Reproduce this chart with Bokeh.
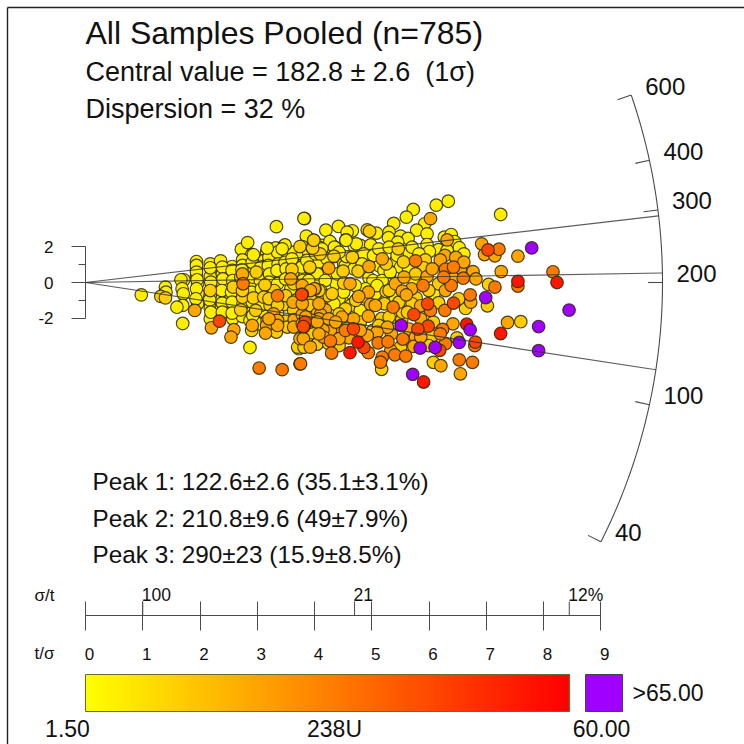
import math
from bokeh.embed import file_html
from bokeh.resources import INLINE
from bokeh.plotting import figure
from bokeh.models import ColumnDataSource, LinearAxis, FixedTicker, LinearColorMapper
from bokeh.core.properties import value

FONT = "Liberation Sans"

# points: t/sigma and standardised residual, grouped by 238U level
yellow_t = [0.97,1.39,1.40,1.71,1.66,1.68,1.70,1.69,1.59,1.69,1.93,1.93,1.93,1.95,1.96,1.95,2.17,2.19,2.17,2.17,2.17,2.17,2.35,2.38,2.38,2.37,2.36,2.55,2.57,2.53,2.55,2.56,2.71,2.82,2.89,2.73,2.73,2.86,2.86,2.87,3.03,2.90,3.03,3.02,3.15,3.19,3.32,3.81,3.85,3.97,3.42,3.31,3.46,3.74,3.96,3.11,3.28,3.44,3.59,3.77,3.36,3.77,3.13,4.03,3.60,3.34,3.11,3.05,2.90,3.57,3.89,4.03,4.09,4.03,
 6.10,6.31,5.70,5.58,7.22,5.90,5.36,5.76,5.94,4.40,4.18,3.80,4.64,4.55,5.06,5.28,5.27,5.48,5.61,5.43,3.84,3.97,4.25,4.53,4.78,4.67,4.96,6.24,6.36,6.42,5.94,4.12,3.77,4.32,6.50,6.58,6.14,5.98,5.59,5.40,5.11,4.74,4.55,4.32,4.10,4.93,5.19,5.29,5.14,5.00,4.36,3.80,4.48,4.41,5.35,
 3.30,3.14,3.19,3.74,3.45,4.17,4.49,3.74,3.29,2.90,3.04,3.16,3.71,
 1.93,1.93,1.94,1.93,1.92,2.17,2.18,2.17,2.16,2.18,2.38,2.39,2.37,2.38,2.38,2.55,2.56,2.54,2.55,2.55,2.73,2.72,2.74,2.90,2.91,2.89,2.90,2.91,3.05,3.04,3.06,3.05,3.19,3.18,3.20,3.19,3.34,3.35,3.33,3.34,3.48,3.47,3.49,3.48,3.62,3.63,3.61,3.77,3.76,3.78,3.91,3.92,3.90,4.06,4.05,4.07,
 3.88,4.06,4.03,3.88,4.17,4.38,4.52,4.67,4.84,5.01,5.10,5.28,5.42,5.68,5.80,5.16,4.87,5.04,4.49,4.32,4.61,4.78,3.94,5.48,5.30,5.62,4.69,5.71,6.06,6.29,5.25,
 3.47,3.16,2.92,3.59,3.42,4.25,4.33,4.54,4.71,4.53,4.11,3.85,4.00,4.20,4.41,4.81,4.09,5.07,5.39]
yellow_z = [-0.69,-0.26,-0.54,0.15,0.15,-0.35,-0.63,-1.28,-1.38,-2.29,1.17,0.71,0.37,-0.07,-0.63,-1.19,1.04,0.67,0.33,-1.19,-1.41,-2.03,1.21,0.48,-0.07,-0.86,-1.41,0.89,0.39,-0.82,-1.38,-2.03,1.86,2.23,1.54,1.26,-1.90,-2.12,-3.63,0.67,0.39,-1.47,-1.93,-2.31,1.69,1.88,3.12,3.57,2.55,2.34,1.86,1.93,2.06,2.01,1.92,1.23,1.32,1.51,1.26,1.23,0.45,0.39,-0.15,-0.82,-0.63,-1.71,-1.66,-0.63,-0.26,-0.35,0.30,0.67,1.41,-3.42,
 4.32,4.54,4.08,3.65,3.80,3.28,3.30,2.92,2.72,3.13,2.92,3.58,2.89,2.81,2.76,2.81,2.50,2.59,2.46,2.25,2.59,2.35,2.25,2.38,2.07,2.07,2.10,2.53,2.68,2.29,2.12,2.07,2.01,2.01,1.94,1.60,1.83,1.73,1.60,1.21,0.93,1.14,1.42,1.45,1.60,0.26,0.67,0.26,-0.35,0.11,-0.07,0.26,-1.10,-0.91,-1.93,
 1.54,0.95,0.39,0.95,1.13,1.32,1.04,0.30,-0.22,-0.13,-1.19,-2.12,-3.70,
 0.95,0.58,0.15,-0.35,-0.91,0.82,0.02,-0.73,-0.97,-1.66,0.86,0.20,-0.45,-1.15,-1.66,0.67,0.11,-0.54,-1.10,-1.71,0.95,0.71,-1.19,1.13,0.30,-0.54,-1.10,-1.84,0.86,0.11,-0.35,-1.28,1.41,0.95,0.48,0.02,1.69,1.04,0.67,-0.07,1.79,1.13,0.76,0.20,1.69,0.95,0.58,1.60,0.86,0.11,1.51,1.13,-0.07,1.97,1.04,0.20,
 1.69,1.14,0.48,0.11,0.11,0.48,0.95,0.76,1.60,1.51,1.88,1.97,1.51,1.97,1.60,0.11,-0.35,-0.63,-0.54,-1.19,-1.28,-1.56,-1.10,0.86,0.58,0.76,-0.17,0.11,-0.63,1.79,-0.82,
 2.10,1.92,1.55,1.32,1.88,2.29,1.97,1.45,2.16,2.36,1.88,1.23,1.60,1.32,1.69,1.04,-0.45,-0.17,-0.91]
gold_t = [1.31,1.39,2.17,2.57,2.73,2.70,2.89,2.92,3.32,3.90,3.28,3.46,3.29,3.21,3.48,3.77,3.96,3.79,3.69,3.51,2.70,
 5.44,3.95,5.91,5.53,5.23,3.90,4.48,4.74,5.88,7.01,6.14,4.49,5.23,4.20,4.03,5.75,6.99,6.61,6.49,6.14,5.68,5.20,3.84,5.15,5.50,7.57,6.05,3.95,5.00,4.03,3.80,6.03,6.46,5.15,6.05,4.41,4.90,4.94,
 2.97,3.12,3.59,2.96,3.10,
 2.73,3.19,3.34,3.48,3.62,3.62,3.77,3.77,3.91,3.91,4.06,4.09,4.78,5.10,5.28,5.51,5.97,5.74,5.45,5.60,5.48,5.97,
 4.32,4.08,3.73,3.95,3.97,4.64,4.29,4.52,4.70,4.87,5.28,4.55,4.41,4.23]
gold_z = [-0.78,-0.86,-0.45,-0.26,-0.82,-1.53,-2.68,-0.86,-2.77,0.82,-0.45,-1.23,-1.10,-1.28,-2.16,-1.23,-2.77,-3.61,-3.61,-2.49,0.30,
 1.88,1.92,1.26,1.15,1.04,0.86,0.63,0.63,0.82,-0.11,-0.07,-0.04,-0.50,-0.74,-0.91,-0.86,-1.30,-1.45,-0.91,-1.13,-1.19,-1.19,-1.56,-2.01,-2.08,-2.19,-2.21,-2.81,-2.68,-3.44,-3.61,-2.99,-3.09,-4.85,-4.46,-3.52,2.94,2.86,
 0.58,-0.13,0.73,-1.56,-0.82,
 -0.45,-0.91,-1.28,-0.73,-0.07,-1.56,-0.54,-1.10,-0.73,-1.28,-0.45,-1.28,-2.21,-2.40,-1.93,-1.66,-0.45,0.48,-1.10,-1.66,-3.61,-3.52,
 1.47,1.60,2.01,1.92,2.36,1.41,-0.63,-1.47,-1.00,-0.82,-0.45,-2.40,-1.75,-3.42]
orange_t = [1.90,2.19,2.58,2.53,2.73,3.15,3.13,3.27,3.63,3.77,3.99,3.77,3.61,4.03,3.73,3.57,
 6.00,6.29,6.89,6.94,7.12,7.52,6.25,6.44,6.17,5.16,4.93,4.23,6.52,6.74,7.23,5.94,6.40,6.79,5.39,5.67,5.51,4.92,4.60,3.98,4.75,4.96,5.58,6.70,5.83,4.17,4.09,3.77,4.92,4.66,7.34,6.39,5.63,4.41,4.26,4.13,3.79,4.58,4.41,5.74,5.32,5.71,6.18,6.52,
 2.90,3.34,3.34,3.19,3.62,3.77,3.91,4.06,4.06,3.94,4.23,4.46,6.03,5.54,6.26,6.58,5.04,5.83,5.25,5.07,4.14,3.91,4.90,5.31,5.83,
 3.91,3.83,4.03,4.35,4.78,4.06]
orange_z = [-1.56,-2.53,-2.64,-3.05,0.48,-2.40,-2.83,-1.75,-2.08,-1.79,-0.35,-0.17,-1.10,-1.75,-3.14,0.20,
 3.57,2.38,2.16,1.56,1.49,1.47,1.51,1.40,1.26,1.32,0.89,0.80,0.74,0.61,0.61,0.33,0.24,0.20,-0.07,-0.35,-0.48,-0.54,-0.07,-0.35,-0.78,-1.23,-0.69,-1.10,-1.30,-1.53,-1.79,-1.19,-1.88,-2.03,-2.23,-2.31,-2.60,-2.68,-2.68,-2.64,-3.14,-3.09,-3.14,-3.05,-2.86,-3.57,-4.65,-5.10,
 -2.40,-2.12,-2.40,-2.03,-2.49,-2.31,-2.21,-1.19,-2.03,-2.12,-2.03,-1.93,0.76,0.30,-0.45,1.14,-1.28,-2.03,-2.50,-2.77,-3.05,-3.61,-2.96,-3.80,-3.05,
 -0.45,-1.93,-2.21,-2.21,-2.68,-2.87]
deep_t = [2.74,3.34,3.02,3.42,3.73,
 7.19,6.26,6.40,5.74,8.13,6.57,7.12,7.52,6.36,5.87,3.77,6.69,5.35,6.25,3.80,6.21,4.26,4.92,5.09,5.26,5.52,6.26,6.77,4.28,5.16,5.13,5.38,5.57,6.50,6.73,3.74,
 6.23,6.00,4.52,6.17]
deep_z = [-0.07,-0.74,-4.78,-4.87,-4.54,
 1.86,0.74,0.86,1.21,0.60,0.24,-0.26,-0.20,-0.17,-0.17,-0.67,-0.69,-1.38,-1.56,-2.46,-2.62,-3.27,-3.92,-3.37,-3.31,-3.16,-3.42,-3.52,-3.94,-4.17,-4.45,-4.04,-4.11,-4.32,-4.46,-4.54,
 0.30,-1.56,-2.68,-2.87]
hot_t = [2.33,3.76,3.82,3.79,7.00,6.40,5.95,5.71,5.96,5.78,4.66,4.84,6.16,6.78]
hot_z = [-2.16,-0.67,-2.21,-2.46,1.82,-1.15,-1.19,-1.79,-2.44,-2.60,-2.59,-3.63,-3.79,-3.33]
red_t = [7.52,8.20,7.22,6.63,4.74,4.60,5.88]
red_z = [0.06,0.00,-2.85,-2.33,-3.33,-3.92,-5.56]
over_t = [7.76,6.96,8.41,5.49,7.88,6.69,7.88,6.50,5.82,6.08,5.69]
over_z = [1.93,-0.84,-1.54,-2.40,-2.46,-2.64,-3.81,-3.35,-3.66,-3.63,-5.13]
group_u = [5.4, 13, 22, 32, 44, 55, 70]

peak_ages = [122.6, 210.8, 290]
arc_ticks = [40, 100, 200, 300, 400, 600]
arc_labels = ["40", "100", "200", "300", "400", "600"]
t_sigma_ticks = list(range(10))
sigma_t_ticks = [1, 4.70, 8.45]
sigma_t_labels = ["100", "21", "12%"]
title = "All Samples Pooled (n=785)"
central = "Central value = 182.8 \u00b1 2.6\u00a0\u00a0(1\u03c3)"
dispersion = "Dispersion = 32 %"
peaks = ["Peak 1: 122.6\u00b12.6 (35.1\u00b13.1%)", "Peak 2: 210.8\u00b19.6 (49\u00b17.9%)", "Peak 3: 290\u00b123 (15.9\u00b18.5%)"]
u_low, u_high, u_over = 1.5, 60.0, 65.0
ref_age = 200.0

# geometry
W = H = 744
PXT, PXZ = 57.25, 17.9      # pixels per t/sigma unit, per z unit
CAL = 57.5 / PXT            # reading calibration of the t/sigma values

def tx(px):
    return (px - 85) / PXT
def zy(py):
    return (282 - py) / PXZ

p = figure(width=W, height=H, output_backend="svg", toolbar_location=None, min_border=0,
           x_range=(tx(0), tx(744)), y_range=(zy(744), zy(0)),
           x_axis_type=None, y_axis_type=None, outline_line_color=None)
p.grid.visible = False
p.background_fill_color = "white"
TXT = "#111111"

# page frame: top and left rule
p.segment(x0=[tx(7), tx(7)], y0=[zy(7), zy(7)], x1=[tx(744), tx(7)], y1=[zy(7), zy(744)],
          line_color="#222222", line_width=1.4)

# points
groups = [(yellow_t, yellow_z), (gold_t, gold_z), (orange_t, orange_z), (deep_t, deep_z),
          (hot_t, hot_z), (red_t, red_z), (over_t, over_z)]
xs, zs, us = [], [], []
for (gt, gz), u in zip(groups, group_u):
    xs += [v * CAL for v in gt]
    zs += gz
    us += [u] * len(gt)
palette = ["#ff%02x00" % round(255 * (1 - i / 255)) for i in range(256)]
mapper = LinearColorMapper(palette=palette, low=u_low, high=u_high, high_color="#a000ff")
src = ColumnDataSource(dict(x=xs, z=zs, u=us))
p.scatter("x", "z", source=src, size=12.6, fill_color={"field": "u", "transform": mapper},
          line_color="#2a2a00", line_alpha=0.85, line_width=1.2)

# radial scale
K = PXZ / PXT
R = 577.0 / PXT
def arc_point(age, frac=1.0):
    s = math.log(age / ref_age)
    x = frac * R / math.sqrt(1 + (K * s) ** 2)
    return x, x * s

LINE = "#4a4a4a"
n = 160
ages = [40 * (600 / 40) ** (i / n) for i in range(n + 1)]
pts = [arc_point(a) for a in ages]
p.line([a for a, _ in pts], [b for _, b in pts], line_color=LINE, line_width=1.1)
ends = [arc_point(a) for a in peak_ages]
p.segment(x0=[0] * 3, y0=[0] * 3, x1=[e[0] for e in ends], y1=[e[1] for e in ends],
          line_color="#333333", line_alpha=0.8, line_width=1.2)
t_out = [arc_point(a) for a in arc_ticks]
t_in = [arc_point(a, 0.975) for a in arc_ticks]
p.segment(x0=[e[0] for e in t_in], y0=[e[1] for e in t_in], x1=[e[0] for e in t_out], y1=[e[1] for e in t_out],
          line_color=LINE, line_width=1.1)
p.text(x=[e[0] for e in t_out], y=[e[1] for e in t_out], text=arc_labels, x_offset=14, y_offset=-9,
       text_font=value(FONT), text_font_size="24px", text_align="left", text_baseline="middle", text_color=TXT)

# residual axis
zaxis = LinearAxis(fixed_location=0, bounds=(-2, 2),
                   ticker=FixedTicker(ticks=[-2, 0, 2], minor_ticks=[-1, 1]),
                   major_tick_in=0, major_tick_out=14, minor_tick_in=0, minor_tick_out=7,
                   axis_line_color=LINE, major_tick_line_color=LINE, minor_tick_line_color=LINE,
                   major_label_standoff=18, major_label_text_font=FONT, major_label_text_font_size="17px",
                   major_label_overrides={-2: "-2"}, major_label_text_color=TXT)
p.add_layout(zaxis, "left")

# t/sigma axis and sigma/t ticks
Y_AX = zy(615)
taxis = LinearAxis(fixed_location=Y_AX, bounds=(0, 9), ticker=FixedTicker(ticks=t_sigma_ticks),
                   major_tick_in=14, major_tick_out=15, minor_tick_in=0, minor_tick_out=0,
                   axis_line_color=LINE, major_tick_line_color=LINE,
                   major_label_overrides={i: "" for i in t_sigma_ticks})
p.add_layout(taxis, "below")
p.text(x=t_sigma_ticks, y=[zy(653)] * 10, text=[str(i) for i in t_sigma_ticks], x_offset=4,
       text_font=value(FONT), text_font_size="17px", text_align="center", text_baseline="middle", text_color=TXT)
p.segment(x0=sigma_t_ticks, y0=[Y_AX] * 3, x1=sigma_t_ticks, y1=[zy(601)] * 3, line_color=LINE, line_width=1)
p.text(x=sigma_t_ticks, y=[zy(594)] * 3, text=sigma_t_labels, x_offset=-1,
       text_font=value(FONT), text_font_size="17.5px", text_align="left", text_baseline="middle", text_color=TXT)
p.text(x=[tx(44)] * 2, y=[zy(595), zy(653)], text=["\u03c3/t", "t/\u03c3"],
       text_font=value(FONT), text_font_size="17px", text_align="center", text_baseline="middle", text_color=TXT)

# colour bar
steps = 240
edges = [sigma_t_ticks[-1] * i / steps for i in range(steps + 1)]
ramp_u = [u_low + (u_high - u_low) * (i + 0.5) / steps for i in range(steps)]
bar = ColumnDataSource(dict(left=edges[:-1], right=edges[1:], top=[zy(674)] * steps, bottom=[zy(711)] * steps, u=ramp_u))
p.quad(left="left", right="right", top="top", bottom="bottom", source=bar,
       fill_color={"field": "u", "transform": mapper}, line_color={"field": "u", "transform": mapper}, line_width=1.2)
p.quad(left=[0], right=[sigma_t_ticks[-1]], top=[zy(674)], bottom=[zy(711)], fill_color=None, line_color="#6a6a30", line_width=1)
p.quad(left=[tx(585)], right=[tx(622)], top=[zy(674)], bottom=[zy(711)], fill_color=mapper.high_color, line_color="#444444", line_width=1)
p.text(x=[tx(67), tx(334), tx(601)], y=[zy(728)] * 3, text=["%.2f" % u_low, "238U", "%.2f" % u_high],
       text_font=value(FONT), text_font_size="23px", text_align="center", text_baseline="middle", text_color=TXT)
p.text(x=[tx(632)], y=[zy(692)], text=[">%.2f" % u_over],
       text_font=value(FONT), text_font_size="23px", text_align="left", text_baseline="middle", text_color=TXT)

# headings
p.text(x=[tx(85)], y=[zy(32)], text=[title], text_font=value(FONT), text_font_size="32px",
       text_align="left", text_baseline="middle", text_color=TXT)
p.text(x=[tx(85)] * 2, y=[zy(71), zy(108)], text=[central, dispersion], text_font=value(FONT), text_font_size="27px",
       text_align="left", text_baseline="middle", text_color=TXT)
p.text(x=[tx(92)] * 3, y=[zy(481), zy(518), zy(554)], text=peaks, text_font=value(FONT), text_font_size="24.3px",
       text_align="left", text_baseline="middle", text_color=TXT)

open("out.html", "w").write(file_html(p, INLINE))
